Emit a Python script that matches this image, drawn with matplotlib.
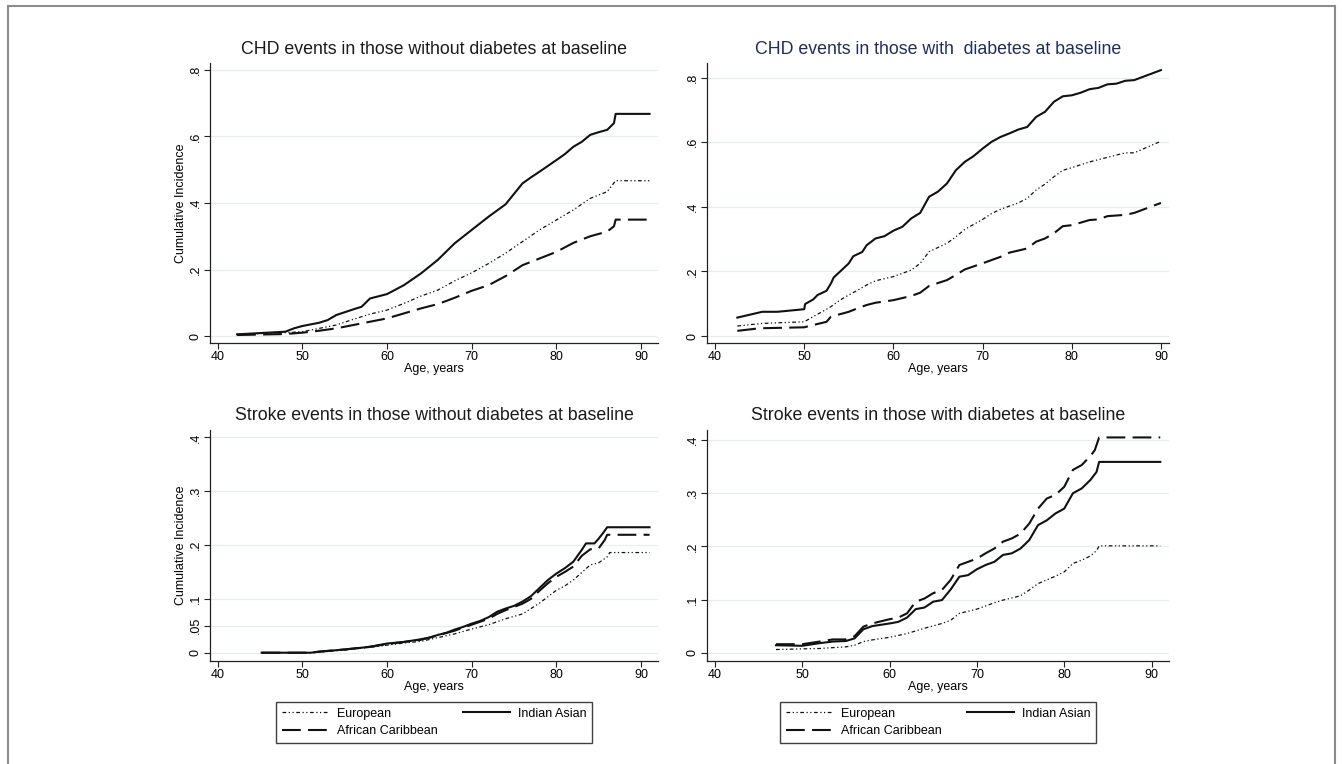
import matplotlib
matplotlib.use("Agg")
import matplotlib.pyplot as plt
from matplotlib.lines import Line2D

plt.rcParams['font.family'] = ['Liberation Sans', 'DejaVu Sans']

# ---- CHD, no diabetes at baseline ----
chd_nd_ia_age = [42.3, 48, 49, 50, 52, 53, 54, 56, 57, 58, 60, 62, 64, 66, 68, 70, 72, 74,
                 76, 77, 78, 80, 81, 82, 83, 84, 85, 86, 86.8, 87, 91]
chd_nd_ia = [0.005, 0.013, 0.023, 0.030, 0.040, 0.048, 0.063, 0.080, 0.088, 0.113, 0.126,
             0.153, 0.188, 0.229, 0.279, 0.319, 0.359, 0.396, 0.459, 0.477, 0.494, 0.529,
             0.547, 0.569, 0.584, 0.605, 0.613, 0.620, 0.640, 0.668, 0.668]
chd_nd_eu_age = [42.3, 48, 50, 52, 54, 56, 58, 60, 62, 64, 66, 68, 70, 72, 74, 76, 78, 80,
                 82, 84, 86, 87, 91]
chd_nd_eu = [0.005, 0.010, 0.013, 0.023, 0.033, 0.050, 0.066, 0.078, 0.098, 0.120, 0.138,
             0.166, 0.190, 0.218, 0.249, 0.284, 0.319, 0.349, 0.379, 0.414, 0.434, 0.467, 0.467]
chd_nd_ac_age = [42.3, 48, 50, 52, 54, 56, 58, 60, 62, 64, 66, 68, 70, 72, 74, 76, 78, 80,
                 82, 84, 86, 86.8, 87, 91]
chd_nd_ac = [0.003, 0.006, 0.010, 0.016, 0.023, 0.033, 0.043, 0.053, 0.068, 0.083, 0.096,
             0.115, 0.136, 0.153, 0.180, 0.213, 0.233, 0.253, 0.280, 0.300, 0.314, 0.330,
             0.350, 0.350]

# ---- CHD, diabetes at baseline ----
chd_d_ia_age = [42.5, 45.3, 47, 50, 50.1, 51, 51.5, 52.5, 53, 53.3, 54, 55, 55.5, 56.5, 57,
                58, 59, 60, 61, 62, 63, 64, 65, 66, 67, 68, 69, 70, 71, 72, 73, 74, 75, 76,
                77, 78, 79, 80, 81, 82, 83, 84, 85, 86, 87, 90]
chd_d_ia = [0.057, 0.075, 0.075, 0.083, 0.099, 0.113, 0.127, 0.140, 0.163, 0.181, 0.199,
            0.225, 0.247, 0.260, 0.281, 0.302, 0.309, 0.326, 0.338, 0.364, 0.381, 0.431,
            0.447, 0.472, 0.513, 0.539, 0.557, 0.580, 0.601, 0.616, 0.627, 0.639, 0.647,
            0.678, 0.694, 0.725, 0.742, 0.745, 0.753, 0.764, 0.768, 0.779, 0.781, 0.790,
            0.792, 0.823]
chd_d_eu_age = [42.5, 45.3, 50, 51, 52, 53, 54, 55, 56, 57, 58, 60, 62, 63, 64, 66, 67, 68,
                70, 71, 72, 74, 75, 76, 77, 78, 79, 80, 82, 84, 86, 87, 90]
chd_d_eu = [0.031, 0.039, 0.044, 0.060, 0.075, 0.091, 0.111, 0.127, 0.142, 0.158, 0.171,
            0.184, 0.204, 0.225, 0.261, 0.287, 0.307, 0.330, 0.361, 0.379, 0.392, 0.412,
            0.426, 0.452, 0.470, 0.493, 0.513, 0.521, 0.539, 0.553, 0.567, 0.567, 0.603]
chd_d_ac_age = [42.5, 45, 50, 51, 52.5, 53, 55, 56, 57, 58, 60, 62, 63, 64, 66, 67, 68, 70,
                72, 73, 75, 76, 77, 78, 79, 80, 82, 83, 84, 86, 87, 90]
chd_d_ac = [0.016, 0.024, 0.027, 0.034, 0.044, 0.060, 0.075, 0.086, 0.096, 0.103, 0.111,
            0.124, 0.134, 0.155, 0.173, 0.189, 0.206, 0.225, 0.245, 0.258, 0.271, 0.292,
            0.302, 0.318, 0.340, 0.343, 0.359, 0.361, 0.371, 0.375, 0.381, 0.412]

# ---- Stroke, no diabetes at baseline ----
str_nd_ia_age = [45.2, 51, 52, 55, 58, 60, 62, 64, 65, 66, 67, 68, 69, 70, 71, 72, 73, 74,
                 75, 76, 77, 78, 79, 80, 81, 82, 83, 83.5, 84.5, 85, 85.5, 86, 91]
str_nd_ia = [0.0, 0.0, 0.002, 0.006, 0.011, 0.017, 0.020, 0.025, 0.028, 0.033, 0.037, 0.043,
             0.048, 0.054, 0.059, 0.066, 0.076, 0.082, 0.087, 0.095, 0.105, 0.120, 0.135,
             0.147, 0.157, 0.169, 0.191, 0.203, 0.203, 0.212, 0.222, 0.233, 0.233]
str_nd_ac_age = [45.2, 51, 52, 55, 58, 60, 62, 64, 66, 68, 70, 72, 73, 74, 76, 77, 78, 79,
                 80, 81, 82, 83, 84, 85, 85.7, 86, 91]
str_nd_ac = [0.0, 0.0, 0.002, 0.006, 0.011, 0.016, 0.020, 0.024, 0.032, 0.041, 0.052, 0.063,
             0.072, 0.079, 0.091, 0.100, 0.115, 0.129, 0.141, 0.150, 0.160, 0.180, 0.192,
             0.194, 0.209, 0.219, 0.219]
str_nd_eu_age = [45.2, 51, 52, 55, 58, 60, 62, 64, 66, 68, 70, 72, 74, 76, 77, 78, 79, 80,
                 81, 82, 83, 84, 85, 86, 86.3, 91]
str_nd_eu = [0.0, 0.0, 0.001, 0.005, 0.010, 0.014, 0.018, 0.021, 0.028, 0.035, 0.044, 0.052,
             0.063, 0.072, 0.082, 0.092, 0.104, 0.116, 0.124, 0.135, 0.149, 0.163, 0.167,
             0.178, 0.186, 0.186]

# ---- Stroke, diabetes at baseline ----
str_d_ac_age = [47, 50, 52, 53.5, 55, 56, 57, 58, 60, 61, 62, 63, 64, 65, 66, 67, 68, 69, 70,
                71, 72, 73, 74, 75, 76, 77, 78, 79, 80, 81, 82, 83, 83.5, 84, 91]
str_d_ac = [0.016, 0.016, 0.021, 0.025, 0.025, 0.031, 0.049, 0.055, 0.063, 0.066, 0.074,
            0.096, 0.102, 0.112, 0.118, 0.137, 0.165, 0.171, 0.177, 0.187, 0.196, 0.209,
            0.215, 0.224, 0.243, 0.271, 0.290, 0.297, 0.312, 0.344, 0.353, 0.370, 0.381,
            0.405, 0.405]
str_d_ia_age = [47, 50, 52, 53.5, 55, 56, 57, 58, 60, 61, 62, 63, 64, 65, 66, 67, 68, 69, 70,
                71, 72, 73, 74, 75, 76, 77, 78, 79, 80, 81, 82, 83, 83.7, 84, 91]
str_d_ia = [0.014, 0.013, 0.018, 0.021, 0.022, 0.027, 0.044, 0.050, 0.055, 0.058, 0.066,
            0.082, 0.085, 0.096, 0.099, 0.119, 0.143, 0.146, 0.157, 0.165, 0.171, 0.184,
            0.187, 0.196, 0.212, 0.240, 0.249, 0.262, 0.271, 0.300, 0.309, 0.325, 0.340,
            0.359, 0.359]
str_d_eu_age = [47, 52, 55, 56, 57, 58, 60, 62, 64, 66, 67, 68, 70, 72, 73, 75, 76, 77, 78,
                79, 80, 81, 82, 83, 83.7, 84, 91]
str_d_eu = [0.006, 0.008, 0.011, 0.014, 0.021, 0.024, 0.029, 0.036, 0.046, 0.055, 0.061,
            0.074, 0.082, 0.094, 0.099, 0.107, 0.118, 0.130, 0.137, 0.144, 0.152, 0.168,
            0.174, 0.182, 0.192, 0.201, 0.201]

titles = ["CHD events in those without diabetes at baseline",
          "CHD events in those with  diabetes at baseline",
          "Stroke events in those without diabetes at baseline",
          "Stroke events in those with diabetes at baseline"]
group_names = ["European", "Indian Asian", "African Caribbean"]

W, H = 1342, 764
fig = plt.figure(figsize=(W / 100, H / 100), dpi=100)


def box(l, t, r, b):
    return [l / W, 1 - b / H, (r - l) / W, (b - t) / H]


panels = [
    dict(rect=box(210, 63, 658, 343), xlim=(39.1, 92.0), ylim=(-0.021, 0.821),
         yt=[0, .2, .4, .6, .8], ytl=["0", ".2", ".4", ".6", ".8"], ylab=True,
         data=[(chd_nd_eu_age, chd_nd_eu), (chd_nd_ia_age, chd_nd_ia), (chd_nd_ac_age, chd_nd_ac)],
         tcol="#1a1a1a", legend=False),
    dict(rect=box(707, 63, 1169, 343), xlim=(39.1, 90.9), ylim=(-0.0216, 0.845),
         yt=[0, .2, .4, .6, .8], ytl=["0", ".2", ".4", ".6", ".8"], ylab=False,
         data=[(chd_d_eu_age, chd_d_eu), (chd_d_ia_age, chd_d_ia), (chd_d_ac_age, chd_d_ac)],
         tcol="#1e2d5c", legend=False),
    dict(rect=box(210, 430, 658, 661), xlim=(39.1, 92.0), ylim=(-0.0154, 0.4136),
         yt=[0, .05, .1, .2, .3, .4], ytl=["0", ".05", ".1", ".2", ".3", ".4"], ylab=True,
         data=[(str_nd_eu_age, str_nd_eu), (str_nd_ia_age, str_nd_ia), (str_nd_ac_age, str_nd_ac)],
         tcol="#1a1a1a", legend=True),
    dict(rect=box(707, 430, 1169, 661), xlim=(39.1, 92.0), ylim=(-0.0156, 0.419),
         yt=[0, .1, .2, .3, .4], ytl=["0", ".1", ".2", ".3", ".4"], ylab=False,
         data=[(str_d_eu_age, str_d_eu), (str_d_ia_age, str_d_ia), (str_d_ac_age, str_d_ac)],
         tcol="#1a1a1a", legend=True),
]

styles = [dict(color="#111111", lw=0.9, linestyle=(0, (3, 2, 1, 2, 1, 2))),
          dict(color="#111111", lw=1.5, linestyle="-"),
          dict(color="#111111", lw=1.5, linestyle=(0, (9, 3.5)))]

for p, title in zip(panels, titles):
    ax = fig.add_axes(p["rect"])
    for (x, y), st, name in zip(p["data"], styles, group_names):
        ax.plot(x, y, label=name, **st)
    ax.set_xlim(*p["xlim"])
    ax.set_ylim(*p["ylim"])
    ax.set_xticks([40, 50, 60, 70, 80, 90])
    ax.set_yticks(p["yt"])
    ax.set_yticklabels(p["ytl"], rotation=90, va="center")
    ax.tick_params(labelsize=9, length=4, width=0.8, color="#222222", pad=2)
    for s in ["top", "right"]:
        ax.spines[s].set_visible(False)
    for s in ["left", "bottom"]:
        ax.spines[s].set_color("#222222")
        ax.spines[s].set_linewidth(0.9)
    ax.grid(axis="y", color="#e6eef0", lw=0.9)
    ax.set_axisbelow(True)
    ax.set_xlabel("Age, years", fontsize=9, labelpad=0)
    if p["ylab"]:
        ax.set_ylabel("Cumulative Incidence", fontsize=9, labelpad=2)
    ax.text(0.5, 1 + 14 / (p["rect"][3] * H), title, transform=ax.transAxes,
            ha="center", va="center", fontsize=12.8, color=p["tcol"])
    if p["legend"]:
        h, l = ax.get_legend_handles_labels()
        order = [0, 2, 1]
        leg = ax.legend([h[i] for i in order], [l[i] for i in order], ncol=2,
                        loc="upper center", bbox_to_anchor=(0.5, -41 / (p["rect"][3] * H)),
                        borderaxespad=0, fontsize=9, frameon=True, fancybox=False,
                        edgecolor="#111111", handlelength=3.8, columnspacing=2.0,
                        labelspacing=0.45, borderpad=0.45, handletextpad=0.6)
        leg.get_frame().set_linewidth(1.0)

# outer frame (left, top, right edges)
fx0, fx1, fy = 8 / W, 1335 / W, 1 - 6 / H
for xs, ys in [([fx0, fx0], [0, fy]), ([fx0, fx1], [fy, fy]), ([fx1, fx1], [fy, 0])]:
    fig.add_artist(Line2D(xs, ys, transform=fig.transFigure, color="#8c8c8c", lw=1.5))

fig.savefig("out.png", dpi=100)
